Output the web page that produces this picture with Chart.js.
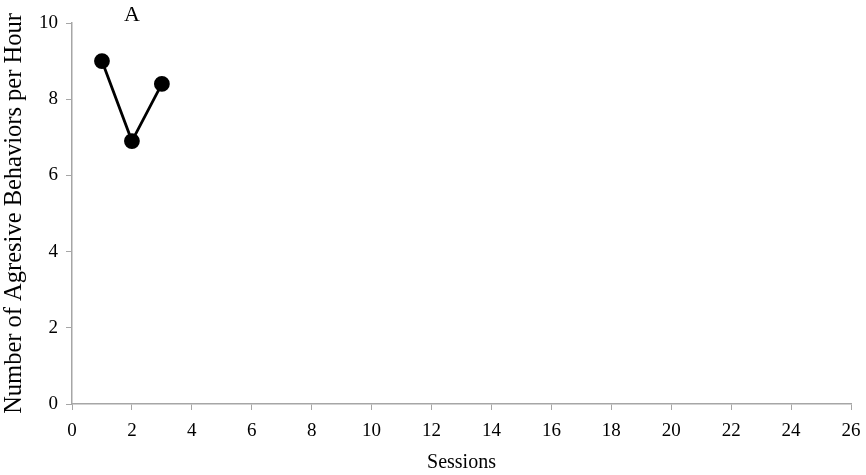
<!DOCTYPE html>
<html>
<head>
<meta charset="utf-8">
<script src="https://cdn.jsdelivr.net/npm/chart.js@4"></script>
<style>
  html, body { margin: 0; padding: 0; background: #fff; }
  #wrap { width: 866px; height: 475px; position: relative; }
</style>
</head>
<body>
<div id="wrap"><canvas id="chart"></canvas></div>
<script>
const sessions = [1, 2, 3];
const behaviors = [9.0, 6.9, 8.4];
const xTicks = [0, 2, 4, 6, 8, 10, 12, 14, 16, 18, 20, 22, 24, 26];
const yTicks = [0, 2, 4, 6, 8, 10];
const panelLabel = 'A';

const serif = '"Liberation Serif", "Times New Roman", serif';
const axisGray = '#a6a6a6';

// draws the panel letter above session 2
const panelLabelPlugin = {
  id: 'panelLabel',
  afterDraw(chart) {
    const ctx = chart.ctx;
    ctx.save();
    ctx.font = '22px ' + serif;
    ctx.fillStyle = '#000';
    ctx.textAlign = 'center';
    ctx.textBaseline = 'middle';
    ctx.fillText(panelLabel, chart.scales.x.getPixelForValue(2), 15);
    ctx.restore();
  }
};

new Chart(document.getElementById('chart').getContext('2d'), {
  type: 'scatter',
  data: {
    datasets: [{
      data: sessions.map((s, i) => ({ x: s, y: behaviors[i] })),
      showLine: true,
      borderColor: '#000',
      borderWidth: 2.8,
      pointBackgroundColor: '#000',
      pointBorderColor: '#000',
      pointRadius: 6.5,
      pointHoverRadius: 6.5
    }]
  },
  options: {
    responsive: true,
    maintainAspectRatio: false,
    animation: false,
    layout: { padding: { top: 23, right: 15, left: 0, bottom: 0 } },
    plugins: {
      legend: { display: false },
      tooltip: { enabled: false }
    },
    scales: {
      x: {
        type: 'linear',
        min: 0,
        max: 26,
        afterBuildTicks: s => { s.ticks = xTicks.map(v => ({ value: v })); },
        ticks: { font: { family: serif, size: 19 }, color: '#000', padding: 10, maxRotation: 0 },
        grid: { drawOnChartArea: false, color: axisGray, tickLength: 6 },
        border: { color: axisGray, width: 1.5 },
        title: { display: true, text: 'Sessions', font: { family: serif, size: 20 }, color: '#000', padding: { top: 15, bottom: 0 } },
        afterFit: s => { s.height = 71; s.paddingRight = 0; s.paddingLeft = 0; }
      },
      y: {
        min: 0,
        max: 10,
        afterBuildTicks: s => { s.ticks = yTicks.map(v => ({ value: v })); },
        ticks: { font: { family: serif, size: 19 }, color: '#000', padding: 8 },
        grid: { drawOnChartArea: false, color: axisGray, tickLength: 6 },
        border: { color: axisGray, width: 1.5 },
        title: { display: true, text: 'Number of Agresive Behaviors per Hour', font: { family: serif, size: 24.5 }, color: '#000', padding: { top: 0, bottom: 4 } },
        afterFit: s => { s.width = 72; s.paddingTop = 0; s.paddingBottom = 0; }
      }
    }
  },
  plugins: [panelLabelPlugin]
});
</script>
</body>
</html>
